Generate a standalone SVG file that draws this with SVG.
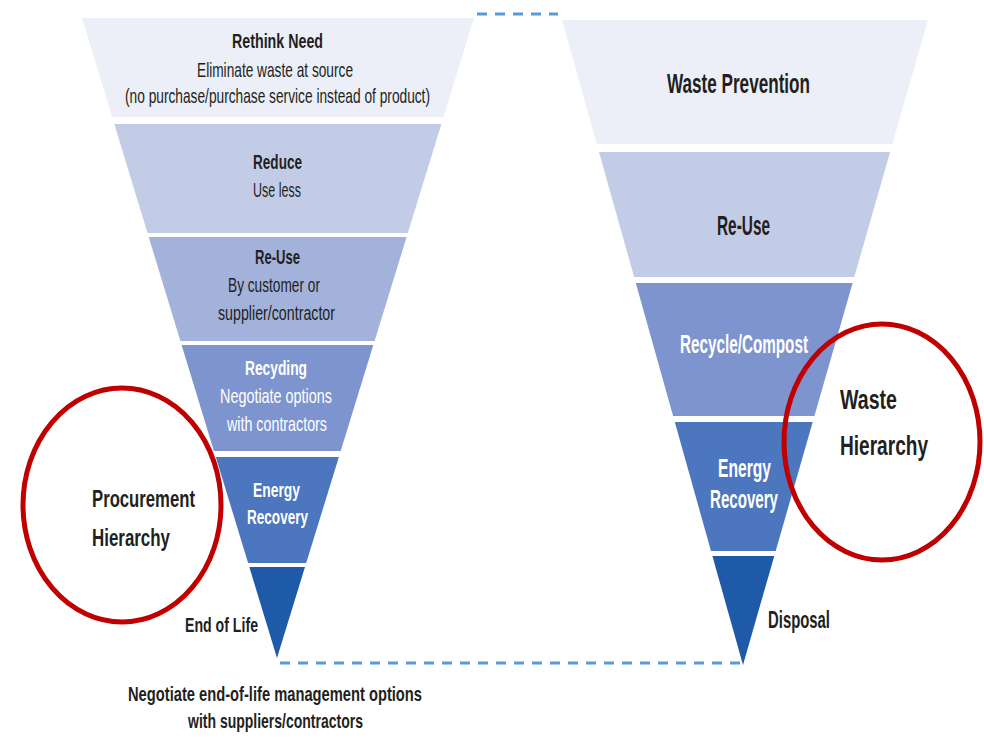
<svg xmlns="http://www.w3.org/2000/svg" width="984" height="741" viewBox="0 0 984 741">
<style>
text{font-family:"Liberation Sans",Arial,sans-serif;fill:#231f20}
.b{font-weight:bold}
.w{fill:#ffffff}
.c1{fill:#eceff8}.c2{fill:#c3cce7}.c3{fill:#a2b2db}.c4{fill:#7d94ce}.c5{fill:#4c76bd}.c6{fill:#1f5aa9}
.ring{fill:none;stroke:#c00000;stroke-width:5}
.dash{stroke:#5b9bd5;stroke-width:3;stroke-dasharray:10 8;fill:none}
</style>
<rect width="984" height="741" fill="#ffffff"/>
<g id="connectors">
<line class="dash" x1="477" y1="14" x2="558" y2="14"/>
<line class="dash" x1="280" y1="663" x2="742" y2="663"/>
</g>
<g id="procurement-hierarchy">
<g id="p-rethink">
<polygon class="c1" points="82,18 474,18 443.5,117 112.2,117"/>
<text class="b" x="232" y="48" font-size="21" textLength="91" lengthAdjust="spacingAndGlyphs">Rethink Need</text>
<text x="197" y="77" font-size="21" textLength="156" lengthAdjust="spacingAndGlyphs">Eliminate waste at source</text>
<text x="125" y="103" font-size="21" textLength="305" lengthAdjust="spacingAndGlyphs">(no purchase/purchase service instead of product)</text>
</g>
<g id="p-reduce">
<polygon class="c2" points="114.3,124 441.4,124 407.8,233 147.5,233"/>
<text class="b" x="253" y="169" font-size="21" textLength="49" lengthAdjust="spacingAndGlyphs">Reduce</text>
<text x="253" y="197" font-size="21" textLength="48" lengthAdjust="spacingAndGlyphs">Use less</text>
</g>
<g id="p-reuse">
<polygon class="c3" points="148.7,237 406.6,237 374.6,341 180.4,341"/>
<text class="b" x="255" y="264" font-size="21" textLength="45" lengthAdjust="spacingAndGlyphs">Re-Use</text>
<text x="228" y="292" font-size="21" textLength="92" lengthAdjust="spacingAndGlyphs">By customer or</text>
<text x="218" y="320" font-size="21" textLength="117" lengthAdjust="spacingAndGlyphs">supplier/contractor</text>
</g>
<g id="p-recycling">
<polygon class="c4" points="181.6,345 373.3,345 340.7,451 213.9,451"/>
<text class="b w" x="245" y="375" font-size="21" textLength="62" lengthAdjust="spacingAndGlyphs">Recyding</text>
<text class="w" x="220" y="403" font-size="21" textLength="112" lengthAdjust="spacingAndGlyphs">Negotiate options</text>
<text class="w" x="227" y="431" font-size="21" textLength="100" lengthAdjust="spacingAndGlyphs">with contractors</text>
</g>
<g id="p-energy">
<polygon class="c5" points="215.8,457 338.9,457 306.2,563 248.1,563"/>
<text class="b w" x="253" y="497" font-size="21" textLength="47" lengthAdjust="spacingAndGlyphs">Energy</text>
<text class="b w" x="247" y="524" font-size="21" textLength="61" lengthAdjust="spacingAndGlyphs">Recovery</text>
</g>
<g id="p-endoflife">
<polygon class="c6" points="249.3,567 305,567 277,658"/>
<text class="b" x="185" y="632" font-size="20" textLength="73" lengthAdjust="spacingAndGlyphs">End of Life</text>
</g>
<g id="p-note">
<text class="b" x="128" y="701" font-size="21" textLength="294" lengthAdjust="spacingAndGlyphs">Negotiate end-of-life management options</text>
<text class="b" x="188" y="728" font-size="21" textLength="175" lengthAdjust="spacingAndGlyphs">with suppliers/contractors</text>
</g>
<g id="p-label">
<ellipse class="ring" cx="122" cy="505" rx="99" ry="117"/>
<text class="b" x="92" y="507" font-size="23" textLength="103" lengthAdjust="spacingAndGlyphs">Procurement</text>
<text class="b" x="92" y="546" font-size="23" textLength="78" lengthAdjust="spacingAndGlyphs">Hierarchy</text>
</g>
</g>
<g id="waste-hierarchy">
<g id="w-prevention">
<polygon class="c1" points="562,20 928,20 892.4,144 596.8,144"/>
<text class="b" x="667" y="93" font-size="28" textLength="143" lengthAdjust="spacingAndGlyphs">Waste Prevention</text>
</g>
<g id="w-reuse">
<polygon class="c2" points="599,152 890.1,152 854.3,277 634.1,277"/>
<text class="b" x="717" y="235" font-size="28" textLength="53" lengthAdjust="spacingAndGlyphs">Re-Use</text>
</g>
<g id="w-recycle">
<polygon class="c4" points="635.8,283 852.6,283 814.4,416 673.1,416"/>
<text class="b w" x="680" y="353" font-size="26" textLength="128" lengthAdjust="spacingAndGlyphs">Recycle/Compost</text>
</g>
<g id="w-energy">
<polygon class="c5" points="674.8,422 812.7,422 775.7,551 711,551"/>
<text class="b w" x="718" y="477" font-size="26" textLength="53" lengthAdjust="spacingAndGlyphs">Energy</text>
<text class="b w" x="710" y="508" font-size="26" textLength="68" lengthAdjust="spacingAndGlyphs">Recovery</text>
</g>
<g id="w-disposal">
<polygon class="c6" points="712.4,556 774.3,556 743,665"/>
<text class="b" x="768" y="628" font-size="24" textLength="62" lengthAdjust="spacingAndGlyphs">Disposal</text>
</g>
<g id="w-label">
<ellipse class="ring" cx="882" cy="442" rx="98" ry="118"/>
<text class="b" x="840" y="409" font-size="28" textLength="57" lengthAdjust="spacingAndGlyphs">Waste</text>
<text class="b" x="840" y="455" font-size="28" textLength="88" lengthAdjust="spacingAndGlyphs">Hierarchy</text>
</g>
</g>
</svg>
